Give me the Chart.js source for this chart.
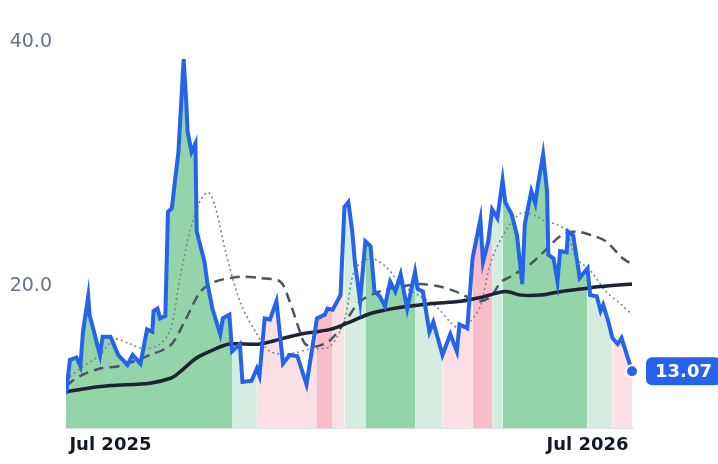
<!DOCTYPE html>
<html>
<head>
<meta charset="utf-8">
<script src="https://cdn.jsdelivr.net/npm/chart.js@4"></script>
<style>
  html, body { margin: 0; padding: 0; background: #fff; }
  #wrap { width: 718px; height: 464px; }
</style>
</head>
<body>
<div id="wrap"><canvas id="chart"></canvas></div>
<script>
// days since 28 May 2025
const priceDays = [0,3,8,11,13,17,18,26,28,34,40,47,51,57,62,66,67,70,72,76,78,81,83,86,90,92,93,96,99,100,106,108,112,118,120,125,127,133,135,142,146,148,152,156,161,166,171,177,184,192,198,200,204,210,213,216,219,221,225,229,233,236,240,244,248,252,256,261,267,269,273,278,281,288,294,299,301,307,311,317,319,323,326,330,334,336,341,345,349,351,356,359,361,365,368,369,373,376,378,383,384,388,393,399,401,406,409,411,415,418,422,425,433];
const price = [11.2,14.0,14.2,13.5,16.3,19.2,17.7,14.4,15.9,15.9,14.4,13.6,14.4,13.7,16.5,16.3,18.0,18.2,17.4,17.6,26.1,26.4,28.3,31.0,38.6,35.1,32.7,31.0,31.7,24.5,22.0,20.4,18.2,16.1,17.4,17.7,14.7,15.3,12.2,12.3,13.3,12.7,17.4,17.3,18.8,13.7,14.4,14.3,12.0,17.4,17.7,18.2,18.1,19.3,26.5,26.9,24.5,22.0,18.8,23.7,23.3,19.6,19.2,18.4,20.4,19.6,21.0,18.2,21.2,19.8,19.6,16.3,17.1,14.4,16.1,14.7,16.9,16.6,22.3,25.5,22.0,23.7,26.3,25.6,28.7,26.9,25.9,24.2,20.2,25.1,27.8,26.8,28.3,30.8,27.8,22.6,22.3,20.4,22.9,22.8,24.5,24.2,20.7,21.5,19.3,19.2,18.0,18.5,17.1,15.8,15.3,15.8,13.07];

const longDays = [0,18,34,64,80,87,99,110,125,148,164,179,202,217,233,256,279,302,317,336,348,363,379,394,409,433];
const longMa = [11.4,11.7,11.9,12.1,12.5,13.0,14.1,14.7,15.3,15.3,15.7,16.1,16.5,17.1,17.8,18.3,18.6,18.8,19.1,19.6,19.3,19.3,19.6,19.8,20.0,20.2];

const midDays = [0,11,26,41,64,80,91,103,114,133,148,164,171,179,183,191,202,214,225,240,256,271,286,298,306,317,325,333,340,356,367,379,390,402,413,425,433];
const midMa = [11.9,12.7,13.3,13.5,14.4,15.2,17.2,19.6,20.4,20.8,20.7,20.4,18.8,16.3,15.3,15.1,15.6,17.2,18.8,19.6,20.0,20.2,20.0,19.6,19.2,18.8,19.2,20.4,20.8,21.9,23.0,24.2,24.5,24.2,23.7,22.4,21.8];

const shortDays = [0,11,26,37,49,60,72,80,87,95,103,109,114,122,133,145,156,171,187,202,213,221,233,245,256,271,283,294,302,309,317,325,336,348,359,367,375,383,390,402,413,425,433];
const shortMa = [12.4,13.3,14.4,15.7,15.3,14.9,15.3,16.5,20.6,24.6,27.1,27.7,26.6,22.9,18.8,16.3,14.7,14.5,14.9,15.1,17.3,21.4,22.3,21.6,20.2,19.2,18.4,17.1,16.5,17.1,18.4,22.0,24.5,26.0,25.8,25.3,25.1,24.5,22.4,21.2,19.6,18.5,17.7];

// regime bands: start day and kind
const regimeStart = [0,127,145,187,203,211,229,265,286,308,324,334,394,418];
const regimeKind = ['G','g','p','P','p','g','G','g','p','P','g','G','g','p'];

const tickDays = [34, 399];
const tickLabels = ['Jul 2025', 'Jul 2026'];

const regimeColor = { G: '#93d4a9', g: '#d4ede0', p: '#fde0e6', P: '#f9bdc9' };
function kindAt(d) {
  let k = regimeKind[0];
  regimeStart.forEach((s, i) => { if (d >= s) k = regimeKind[i]; });
  return k;
}

const pts = (xs, ys) => xs.map((x, i) => ({ x: x, y: ys[i] }));
const last = price.length - 1;

const badge = {
  id: 'badge',
  afterDatasetsDraw(chart) {
    const ctx = chart.ctx;
    const x = chart.scales.x.getPixelForValue(priceDays[last]);
    const y = chart.scales.y.getPixelForValue(price[last]);
    ctx.save();
    ctx.beginPath();
    ctx.arc(x, y, 7, 0, Math.PI * 2);
    ctx.fillStyle = '#fff';
    ctx.fill();
    ctx.beginPath();
    ctx.arc(x, y, 5, 0, Math.PI * 2);
    ctx.fillStyle = '#2563eb';
    ctx.fill();
    const text = price[last].toFixed(2);
    ctx.font = 'bold 18px "DejaVu Sans"';
    const w = ctx.measureText(text).width + 18;
    const bx = x + 14, by = y - 14;
    ctx.beginPath();
    ctx.roundRect(bx, by, w, 28, 6);
    ctx.fillStyle = '#2563eb';
    ctx.fill();
    ctx.fillStyle = '#fff';
    ctx.textBaseline = 'middle';
    ctx.fillText(text, bx + 9, y + 1);
    ctx.restore();
  }
};

new Chart(document.getElementById('chart'), {
  type: 'line',
  data: {
    datasets: [
      {
        data: pts(priceDays, price),
        borderColor: '#2563eb', borderWidth: 4, pointRadius: 0, tension: 0, order: 0
      },
      {
        data: pts(longDays, longMa),
        borderColor: '#1e2333', borderWidth: 3.5, pointRadius: 0, tension: 0.3, order: 1
      },
      {
        data: pts(midDays, midMa),
        borderColor: '#4b5563', borderWidth: 2.5, borderDash: [10, 6], pointRadius: 0, tension: 0.3, order: 2
      },
      {
        data: pts(shortDays, shortMa),
        borderColor: '#7c8595', borderWidth: 1.6, borderDash: [2, 3], pointRadius: 0, tension: 0.3, order: 3
      },
      {
        data: pts(priceDays, price),
        borderWidth: 0, pointRadius: 0, fill: 'start', order: 5,
        backgroundColor: '#93d4a9',
        segment: { backgroundColor: c => regimeColor[kindAt(c.p0.parsed.x)] }
      }
    ]
  },
  options: {
    responsive: true,
    maintainAspectRatio: false,
    animation: false,
    layout: { padding: { top: 42, right: 86, bottom: 2, left: 0 } },
    plugins: { legend: { display: false }, tooltip: { enabled: false } },
    scales: {
      x: {
        type: 'linear', min: 0, max: 433,
        grid: { display: false, drawTicks: false },
        border: { color: '#dde3ea', width: 2 },
        afterBuildTicks: s => { s.ticks = tickDays.map(v => ({ value: v })); },
        ticks: {
          autoSkip: false, maxRotation: 0, padding: 6,
          color: '#111827', font: { family: 'DejaVu Sans', size: 18, weight: 'bold' },
          callback: (v) => tickLabels[tickDays.indexOf(v)]
        }
      },
      y: {
        min: 8.4, max: 40,
        grid: { display: false, drawTicks: false },
        border: { display: false },
        afterBuildTicks: s => { s.ticks = [{ value: 20 }, { value: 40 }]; },
        afterFit: s => { s.width = 66; },
        ticks: {
          padding: 14, color: '#64748b',
          font: { family: 'DejaVu Sans', size: 19 },
          callback: v => v.toFixed(1)
        }
      }
    }
  },
  plugins: [badge]
});
</script>
</body>
</html>
